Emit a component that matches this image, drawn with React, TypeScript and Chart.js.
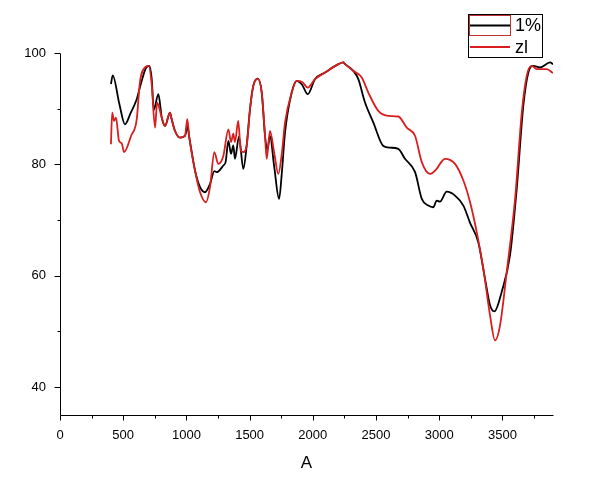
import React, { useEffect, useRef } from 'react';
import { Chart, registerables } from 'chart.js';

Chart.register(...registerables);

// ---- data ----
const seriesNames = ['1%', 'zl'];
const seriesColors = ['#000000', '#d81e1e'];

const blackX = [403, 417, 470, 514, 560, 607, 640, 680, 706, 725, 742, 778, 805, 831, 870, 880, 910, 949, 989, 1007, 1023, 1068, 1108, 1147, 1187, 1221, 1240, 1292, 1310, 1332, 1353, 1371, 1384, 1416, 1450, 1477, 1503, 1529, 1564, 1596, 1622, 1640, 1661, 1695, 1733, 1755, 1780, 1833, 1873, 1915, 1960, 2017, 2097, 2202, 2241, 2255, 2320, 2360, 2413, 2479, 2558, 2611, 2676, 2729, 2809, 2862, 2914, 2953, 2980, 3006, 3059, 3125, 3191, 3244, 3309, 3362, 3402, 3436, 3494, 3560, 3613, 3665, 3705, 3745, 3797, 3877, 3900];
const blackY = [94.4, 96.0, 90.8, 87.2, 89.3, 91.7, 94.5, 97.3, 97.7, 95.5, 89.8, 92.6, 88.4, 86.9, 89.3, 88.4, 86.0, 84.8, 85.1, 86.8, 84.8, 78.9, 75.9, 75.0, 76.5, 78.8, 78.6, 79.8, 80.4, 84.2, 81.9, 83.4, 81.0, 85.0, 79.2, 83.4, 89.9, 94.1, 95.4, 92.9, 85.1, 82.5, 85.1, 79.5, 73.8, 78.5, 85.7, 92.9, 95.0, 94.3, 92.6, 95.3, 96.5, 98.0, 98.3, 98.0, 96.8, 95.3, 91.1, 87.5, 83.3, 83.0, 82.8, 81.0, 78.6, 73.8, 72.6, 72.3, 73.5, 73.3, 75.1, 74.4, 72.6, 69.5, 66.0, 59.5, 54.7, 53.6, 57.1, 63.7, 75.6, 90.5, 96.5, 97.7, 97.4, 98.3, 98.0];

const redX = [403, 413, 428, 443, 467, 488, 507, 562, 607, 632, 677, 702, 725, 752, 768, 805, 831, 870, 880, 910, 949, 989, 1007, 1023, 1068, 1108, 1155, 1187, 1221, 1252, 1292, 1332, 1353, 1371, 1384, 1410, 1430, 1450, 1477, 1503, 1529, 1564, 1596, 1622, 1635, 1661, 1695, 1727, 1755, 1780, 1833, 1873, 1915, 1960, 2017, 2097, 2202, 2241, 2255, 2320, 2387, 2439, 2518, 2597, 2676, 2743, 2809, 2862, 2927, 2980, 3006, 3045, 3125, 3191, 3244, 3297, 3349, 3402, 3441, 3481, 3534, 3600, 3653, 3692, 3731, 3771, 3851, 3900];
const redY = [83.6, 89.3, 87.8, 88.4, 84.2, 83.8, 82.2, 85.1, 88.1, 94.7, 97.5, 97.7, 94.5, 86.6, 91.1, 88.4, 86.9, 89.3, 88.4, 86.0, 84.8, 85.1, 88.1, 84.8, 78.9, 75.0, 73.2, 76.0, 82.2, 80.1, 81.5, 86.3, 84.0, 85.5, 84.0, 87.8, 82.5, 82.2, 83.4, 89.9, 94.1, 95.4, 92.9, 85.1, 81.0, 86.0, 82.0, 78.3, 82.0, 87.5, 92.9, 95.0, 94.8, 93.8, 95.3, 96.5, 98.0, 98.3, 98.0, 96.8, 95.6, 92.9, 89.6, 88.7, 88.6, 86.6, 85.1, 80.4, 78.3, 79.2, 80.1, 81.0, 80.1, 77.1, 73.2, 67.8, 61.3, 52.9, 48.4, 51.1, 60.7, 73.8, 89.3, 95.9, 97.7, 97.1, 97.1, 96.4];

const xMajorTicks = [0, 500, 1000, 1500, 2000, 2500, 3000, 3500];
const xMinorTicks = [250, 750, 1250, 1750, 2250, 2750, 3250, 3750];
const yMajorTicks = [40, 60, 80, 100];
const yMinorTicks = [50, 70, 90];
const xAxisTitle = 'A';
const xMin = 0;
const xMax = 3900;
const yMin = 35;
const yMax = 100;

const FONT = '"Liberation Sans", Arial, sans-serif';

const axesPlugin = {
  id: 'originAxes',
  afterDatasetsDraw(chart: any) {
    const { ctx, chartArea, scales } = chart;
    const xs = scales.x;
    const ys = scales.y;
    ctx.save();
    ctx.strokeStyle = '#000';
    ctx.lineWidth = 1;
    const left = Math.round(chartArea.left) + 0.5;
    const bottom = Math.round(chartArea.bottom) + 0.5;
    ctx.beginPath();
    ctx.moveTo(left, Math.round(chartArea.top) + 0.5);
    ctx.lineTo(left, bottom);
    ctx.lineTo(Math.round(chartArea.right) + 0.5, bottom);
    for (const v of xMajorTicks) {
      const px = Math.round(xs.getPixelForValue(v)) + 0.5;
      ctx.moveTo(px, bottom);
      ctx.lineTo(px, bottom + 5);
    }
    for (const v of xMinorTicks) {
      const px = Math.round(xs.getPixelForValue(v)) + 0.5;
      ctx.moveTo(px, bottom);
      ctx.lineTo(px, bottom + 3);
    }
    for (const v of yMajorTicks) {
      const py = Math.round(ys.getPixelForValue(v)) + 0.5;
      ctx.moveTo(left, py);
      ctx.lineTo(left - 6, py);
    }
    for (const v of yMinorTicks) {
      const py = Math.round(ys.getPixelForValue(v)) + 0.5;
      ctx.moveTo(left, py);
      ctx.lineTo(left - 3, py);
    }
    ctx.stroke();

    // legend
    ctx.strokeStyle = '#000';
    ctx.lineWidth = 1;
    ctx.strokeRect(468.5, 14.5, 74, 43);
    ctx.strokeStyle = '#c03030';
    ctx.strokeRect(469.5, 15.5, 41, 20);
    ctx.font = '18px ' + FONT;
    ctx.textBaseline = 'middle';
    ctx.textAlign = 'left';
    const rowsY = [25.5, 47];
    seriesNames.forEach((name, i) => {
      ctx.strokeStyle = seriesColors[i];
      ctx.lineWidth = 2;
      ctx.beginPath();
      ctx.moveTo(470, rowsY[i]);
      ctx.lineTo(510, rowsY[i]);
      ctx.stroke();
      ctx.fillStyle = '#000';
      ctx.fillText(name, 515, rowsY[i] + 1);
    });
    ctx.restore();
  },
};

export default function App() {
  const ref = useRef<HTMLCanvasElement | null>(null);
  useEffect(() => {
    if (!ref.current) return;
    const chart = new Chart(ref.current, {
      type: 'line',
      data: {
        datasets: [
          {
            label: seriesNames[0],
            data: blackX.map((x, i) => ({ x, y: blackY[i] })),
            borderColor: seriesColors[0],
            borderWidth: 1.8,
            pointRadius: 0,
            cubicInterpolationMode: 'monotone',
            order: 2,
          },
          {
            label: seriesNames[1],
            data: redX.map((x, i) => ({ x, y: redY[i] })),
            borderColor: seriesColors[1],
            borderWidth: 1.8,
            pointRadius: 0,
            cubicInterpolationMode: 'monotone',
            order: 1,
          },
        ],
      },
      options: {
        responsive: false,
        animation: false,
        devicePixelRatio: 1,
        layout: { padding: { top: 53, right: 41, left: 0, bottom: 0 } },
        plugins: {
          legend: { display: false },
          tooltip: { enabled: false },
        },
        scales: {
          x: {
            type: 'linear',
            min: xMin,
            max: xMax,
            grid: { display: false, drawTicks: false },
            border: { display: false },
            afterBuildTicks: (s: any) => {
              s.ticks = xMajorTicks.map((v) => ({ value: v }));
            },
            afterFit: (s: any) => {
              s.height = 64;
            },
            ticks: {
              padding: 13,
              color: '#000',
              maxRotation: 0,
              autoSkip: false,
              font: { family: FONT, size: 13 },
              callback: (v: any) => String(v),
            },
            title: {
              display: true,
              text: xAxisTitle,
              color: '#000',
              font: { family: FONT, size: 17 },
              padding: { top: 4, bottom: 5 },
            },
          },
          y: {
            type: 'linear',
            min: yMin,
            max: yMax,
            grid: { display: false, drawTicks: false },
            border: { display: false },
            afterBuildTicks: (s: any) => {
              s.ticks = yMajorTicks.map((v) => ({ value: v }));
            },
            afterFit: (s: any) => {
              s.width = 60;
            },
            ticks: {
              padding: 14,
              color: '#000',
              autoSkip: false,
              font: { family: FONT, size: 13 },
              callback: (v: any) => String(v),
            },
          },
        },
      },
      plugins: [axesPlugin],
    });
    return () => chart.destroy();
  }, []);
  return (
    <div style={{ position: 'fixed', left: 0, top: 0, width: 594, height: 479, background: '#fff' }}>
      <canvas ref={ref} width={594} height={479} style={{ width: 594, height: 479, display: 'block' }} />
    </div>
  );
}
